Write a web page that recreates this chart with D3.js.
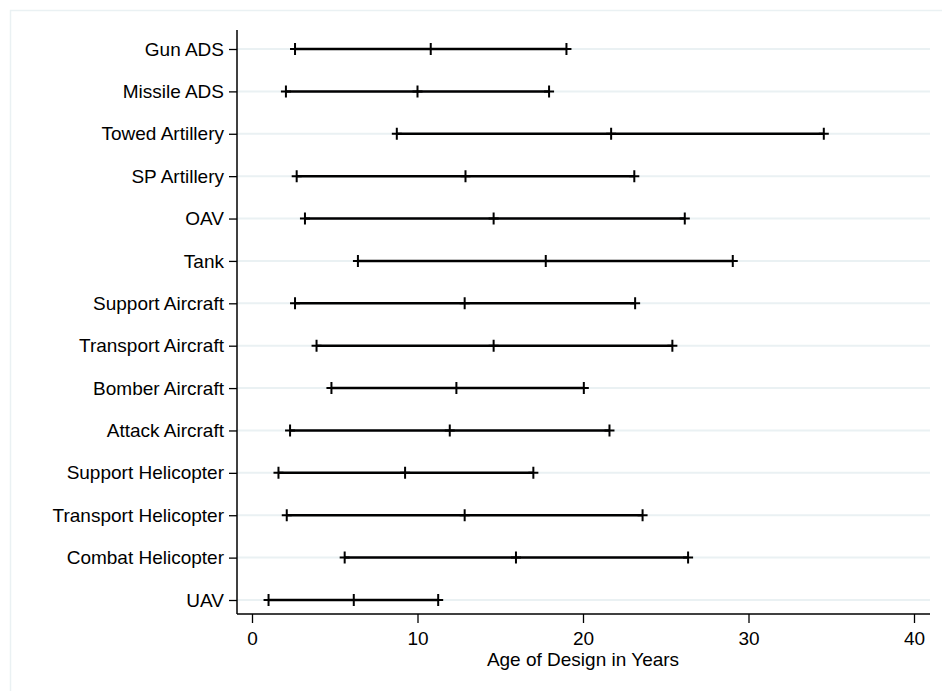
<!DOCTYPE html>
<html>
<head>
<meta charset="utf-8">
<script src="https://cdn.jsdelivr.net/npm/d3@7"></script>
<style>
  body { margin: 0; background: #fff; }
  svg { display: block; }
</style>
</head>
<body>
<svg id="chart" width="942" height="691"></svg>
<script>
const categories = ["Gun ADS", "Missile ADS", "Towed Artillery", "SP Artillery", "OAV", "Tank",
  "Support Aircraft", "Transport Aircraft", "Bomber Aircraft", "Attack Aircraft",
  "Support Helicopter", "Transport Helicopter", "Combat Helicopter", "UAV"];
const lowValues = [2.6, 2.05, 8.75, 2.7, 3.2, 6.4, 2.6, 3.9, 4.8, 2.3, 1.6, 2.1, 5.6, 1.0];
const midValues = [10.8, 10.0, 21.7, 12.9, 14.6, 17.75, 12.85, 14.6, 12.35, 11.95, 9.25, 12.85, 15.95, 6.15];
const highValues = [19.0, 17.95, 34.55, 23.1, 26.15, 29.05, 23.15, 25.4, 20.05, 21.6, 17.0, 23.6, 26.35, 11.25];
const xTicks = [0, 10, 20, 30, 40];
const xTitle = "Age of Design in Years";

const svg = d3.select("#chart");
const width = +svg.attr("width"), height = +svg.attr("height");
const font = "'Liberation Sans', Arial, sans-serif";
const fontSize = "19px";

// faint outer frame (graph region)
svg.append("rect")
  .attr("x", 10.5).attr("y", 10.5)
  .attr("width", width + 10).attr("height", height + 10)
  .attr("fill", "none")
  .attr("stroke", "#eaf1f3")
  .attr("stroke-width", 1.5);

const plotLeft = 237, plotRight = 930, plotBottom = 614, plotTop = 30;

const x = d3.scaleLinear().domain([0, 40]).range([252, 914]);
const y = d3.scalePoint().domain(categories).range([49, 600]);

const rows = categories.map((c, i) => ({ cat: c, lo: lowValues[i], mid: midValues[i], hi: highValues[i] }));

// gridlines
svg.append("g").selectAll("line")
  .data(categories).join("line")
  .attr("x1", plotLeft).attr("x2", plotRight)
  .attr("y1", d => y(d)).attr("y2", d => y(d))
  .attr("stroke", "#eaf1f3")
  .attr("stroke-width", 2);

// axes
const yAxis = svg.append("g")
  .attr("transform", `translate(${plotLeft},0)`)
  .call(d3.axisLeft(y).tickSize(8).tickPadding(5));
yAxis.select(".domain").attr("d", `M0,${plotTop}V${plotBottom}`).attr("stroke", "#000").attr("stroke-width", 1.5);
yAxis.selectAll(".tick line").attr("stroke", "#000").attr("stroke-width", 1.3);
yAxis.selectAll("text")
  .style("font-family", font).style("font-size", fontSize).attr("fill", "#000");

const xAxis = svg.append("g")
  .attr("transform", `translate(0,${plotBottom})`)
  .call(d3.axisBottom(x).tickValues(xTicks).tickSize(9).tickPadding(9));
xAxis.select(".domain").attr("d", `M${plotLeft},0H${plotRight}`).attr("stroke", "#000").attr("stroke-width", 1.5);
xAxis.selectAll(".tick line").attr("stroke", "#000").attr("stroke-width", 1.3);
xAxis.selectAll("text")
  .style("font-family", font).style("font-size", fontSize).attr("fill", "#000");

svg.append("text")
  .attr("x", (252 + 914) / 2)
  .attr("y", 666)
  .attr("text-anchor", "middle")
  .style("font-family", font)
  .style("font-size", fontSize)
  .text(xTitle);

// range lines
const g = svg.append("g");
g.selectAll("line.range")
  .data(rows).join("line")
  .attr("class", "range")
  .attr("x1", d => x(d.lo)).attr("x2", d => x(d.hi))
  .attr("y1", d => y(d.cat)).attr("y2", d => y(d.cat))
  .attr("stroke", "#000")
  .attr("stroke-width", 2.5);

// + markers
const marks = rows.flatMap(d => [d.lo, d.mid, d.hi].map(v => ({ v, cat: d.cat })));
g.selectAll("path.mark")
  .data(marks).join("path")
  .attr("class", "mark")
  .attr("d", d => {
    const cx = x(d.v), cy = y(d.cat);
    return `M${cx - 5},${cy}H${cx + 5}M${cx},${cy - 6}V${cy + 6}`;
  })
  .attr("stroke", "#000")
  .attr("stroke-width", 2);
</script>
</body>
</html>
